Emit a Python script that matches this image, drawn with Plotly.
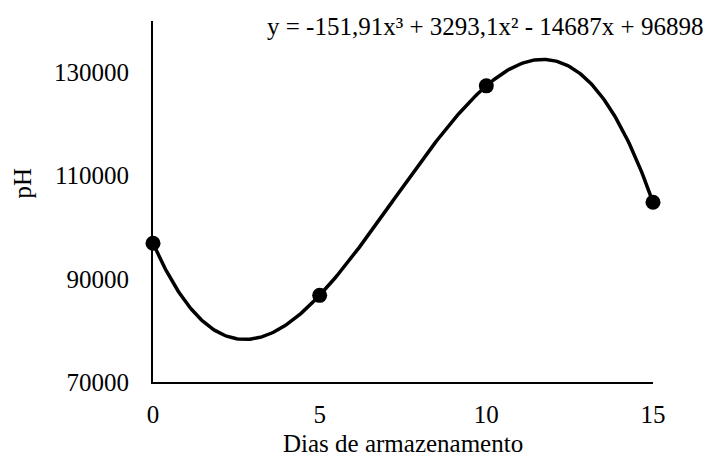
import numpy as np
import plotly.graph_objects as go

# Storage days and measured values
dias = [0, 5, 10, 15]
valores = [96898, 86802, 127428, 104844]

# Third-order trendline coefficients (highest power first)
coef = [-151.91, 3293.1, -14687, 96898]
equacao = "y = -151,91x³ + 3293,1x² - 14687x + 96898"

y_ticks = [70000, 90000, 110000, 130000]
y_labels = ["70000", "90000", "110000", "130000"]
x_ticks = [0, 5, 10, 15]

xs = np.linspace(min(dias), max(dias), 300)
ys = np.polyval(coef, xs)

FONT = "Liberation Serif"
FS = 25

fig = go.Figure()
fig.add_trace(go.Scatter(x=xs, y=ys, mode="lines", cliponaxis=False,
                         line=dict(color="black", width=3.5), hoverinfo="skip"))
fig.add_trace(go.Scatter(x=dias, y=valores, mode="markers", cliponaxis=False,
                         marker=dict(color="black", size=15)))

fig.update_layout(
    width=713, height=457,
    margin=dict(l=153, r=60, t=21, b=75),
    paper_bgcolor="white", plot_bgcolor="white",
    showlegend=False,
    font=dict(family=FONT, size=FS, color="black"),
    xaxis=dict(range=[0, 15], tickvals=x_ticks, showgrid=False, zeroline=False,
               showline=True, linecolor="black", linewidth=2, ticks="",
               ticklabelstandoff=9, tickfont=dict(family=FONT, size=FS)),
    yaxis=dict(range=[70000, 140000], tickvals=y_ticks, ticktext=y_labels,
               showgrid=False, zeroline=False,
               showline=True, linecolor="black", linewidth=2, ticks="",
               ticklabelstandoff=17, tickfont=dict(family=FONT, size=FS)),
    annotations=[
        dict(text=equacao, xref="paper", yref="paper", x=1.104, y=0.985,
             xanchor="right", yanchor="middle", showarrow=False,
             font=dict(family=FONT, size=FS)),
        dict(text="Dias de armazenamento", xref="paper", yref="paper",
             x=0.5, y=-0.17, xanchor="center", yanchor="middle",
             showarrow=False, font=dict(family=FONT, size=FS)),
        dict(text="pH", xref="paper", yref="paper", x=-0.262, y=0.55,
             xanchor="center", yanchor="middle", textangle=-90,
             showarrow=False, font=dict(family=FONT, size=FS)),
    ],
)

fig.write_html("out.html")
